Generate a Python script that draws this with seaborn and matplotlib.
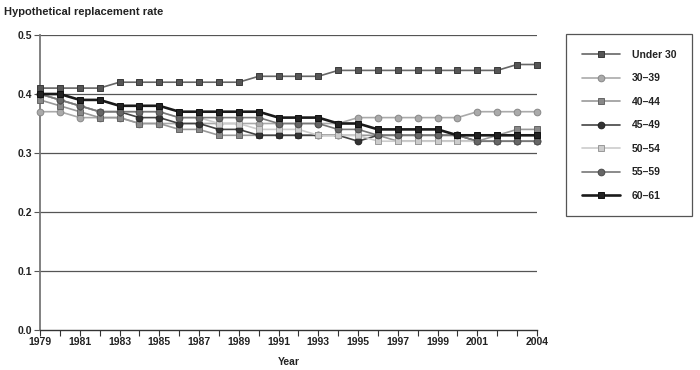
import matplotlib
matplotlib.use("Agg")
import matplotlib.pyplot as plt
import seaborn as sns
import numpy as np

years = list(range(1979, 2005))

under30 = [0.41, 0.41, 0.41, 0.41, 0.42, 0.42, 0.42, 0.42, 0.42, 0.42, 0.42, 0.43, 0.43,
           0.43, 0.43, 0.44, 0.44, 0.44, 0.44, 0.44, 0.44, 0.44, 0.44, 0.44, 0.45, 0.45]
age30_39 = [0.37, 0.37, 0.36, 0.36, 0.36, 0.35, 0.35, 0.35, 0.35, 0.35, 0.35, 0.35, 0.35,
            0.35, 0.35, 0.35, 0.36, 0.36, 0.36, 0.36, 0.36, 0.36, 0.37, 0.37, 0.37, 0.37]
age40_44 = [0.39, 0.38, 0.37, 0.36, 0.36, 0.35, 0.35, 0.34, 0.34, 0.33, 0.33, 0.33, 0.33,
            0.33, 0.33, 0.33, 0.33, 0.33, 0.32, 0.32, 0.32, 0.32, 0.32, 0.33, 0.34, 0.34]
age45_49 = [0.40, 0.39, 0.38, 0.37, 0.37, 0.36, 0.36, 0.35, 0.35, 0.34, 0.34, 0.33, 0.33,
            0.33, 0.33, 0.33, 0.32, 0.33, 0.33, 0.33, 0.33, 0.33, 0.32, 0.32, 0.32, 0.32]
age50_54 = [0.40, 0.39, 0.38, 0.37, 0.37, 0.37, 0.37, 0.36, 0.36, 0.35, 0.35, 0.34, 0.34,
            0.34, 0.33, 0.33, 0.33, 0.32, 0.32, 0.32, 0.32, 0.32, 0.32, 0.32, 0.32, 0.32]
age55_59 = [0.40, 0.39, 0.38, 0.37, 0.37, 0.37, 0.37, 0.36, 0.36, 0.36, 0.36, 0.36, 0.35,
            0.35, 0.35, 0.34, 0.34, 0.33, 0.33, 0.33, 0.33, 0.33, 0.32, 0.32, 0.32, 0.32]
age60_61 = [0.40, 0.40, 0.39, 0.39, 0.38, 0.38, 0.38, 0.37, 0.37, 0.37, 0.37, 0.37, 0.36,
            0.36, 0.36, 0.35, 0.35, 0.34, 0.34, 0.34, 0.34, 0.33, 0.33, 0.33, 0.33, 0.33]

series_names = ["Under 30", "30\u201339", "40\u201344", "45\u201349", "50\u201354", "55\u201359", "60\u201361"]
series_values = [under30, age30_39, age40_44, age45_49, age50_54, age55_59, age60_61]

xtick_labels = {1979: "1979", 1981: "1981", 1983: "1983", 1985: "1985", 1987: "1987",
                1989: "1989", 1991: "1991", 1993: "1993", 1995: "1995", 1997: "1997",
                1999: "1999", 2001: "2001", 2004: "2004"}
yticks = [0.0, 0.1, 0.2, 0.3, 0.4, 0.5]

styles = [
    dict(color="#666666", marker="s", mfc="#555555", mec="#3a3a3a", lw=1.2),
    dict(color="#aaaaaa", marker="o", mfc="#aaaaaa", mec="#888888", lw=1.2),
    dict(color="#999999", marker="s", mfc="#888888", mec="#666666", lw=1.2),
    dict(color="#444444", marker="o", mfc="#333333", mec="#222222", lw=1.2),
    dict(color="#cccccc", marker="s", mfc="#cccccc", mec="#999999", lw=1.2),
    dict(color="#777777", marker="o", mfc="#666666", mec="#4a4a4a", lw=1.2),
    dict(color="#1a1a1a", marker="s", mfc="#222222", mec="#111111", lw=1.9),
]

sns.set_theme(style="white")
plt.rcParams["font.family"] = ["Liberation Sans", "DejaVu Sans"]
plt.rcParams["font.weight"] = "bold"

fig = plt.figure(figsize=(7, 3.7), dpi=100)
ax = fig.add_axes([40 / 700, 1 - 330 / 370, (537 - 40) / 700, (330 - 35) / 370])

for yv in yticks[1:]:
    ax.axhline(yv, color="#555555", lw=0.9, zorder=1)

for name, vals, st in zip(series_names, series_values, styles):
    sns.lineplot(x=years, y=vals, ax=ax, color=st["color"], lw=st["lw"],
                 marker=st["marker"], markersize=4.8, markerfacecolor=st["mfc"],
                 markeredgecolor=st["mec"], markeredgewidth=0.7, label=name,
                 clip_on=False, zorder=3)

ax.set_xlim(1979, 2004)
ax.set_ylim(0, 0.5)
ax.set_xticks(years)
ax.set_xticklabels([xtick_labels.get(y, "") for y in years])
ax.set_yticks(yticks)
ax.set_yticklabels([f"{v:.1f}" for v in yticks])

for s in ["top", "right"]:
    ax.spines[s].set_visible(False)
ax.spines["left"].set_color("#777777")
ax.spines["left"].set_linewidth(1.3)
ax.spines["bottom"].set_color("#333333")
ax.spines["bottom"].set_linewidth(1.0)

ax.tick_params(axis="x", direction="out", length=4, width=0.8, color="#333333",
               labelsize=7.5, pad=1, bottom=True)
ax.tick_params(axis="y", direction="out", length=4, width=0.8, color="#555555",
               labelsize=7.5, pad=2, left=True)
for lab in ax.get_xticklabels() + ax.get_yticklabels():
    lab.set_fontweight("bold")
    lab.set_color("#222222")

ax.set_xlabel("Year", fontsize=7.5, fontweight="bold", color="#222222", labelpad=7)
ax.set_ylabel("")

fig.text(4 / 700, 1 - 12 / 370, "Hypothetical replacement rate", fontsize=8,
         fontweight="bold", color="#222222", va="center", ha="left")

leg = ax.legend(loc="upper left", bbox_to_anchor=(566 / 700, 1 - 34 / 370),
                bbox_transform=fig.transFigure, borderaxespad=0, frameon=True,
                fancybox=False, framealpha=1, edgecolor="#555555",
                prop=dict(size=7.5, weight="bold"), handlelength=3.7,
                handletextpad=1.1, labelspacing=1.3, borderpad=1.5)
leg.get_frame().set_linewidth(0.9)
for t in leg.get_texts():
    t.set_color("#222222")

fig.savefig("out.png", dpi=100)
